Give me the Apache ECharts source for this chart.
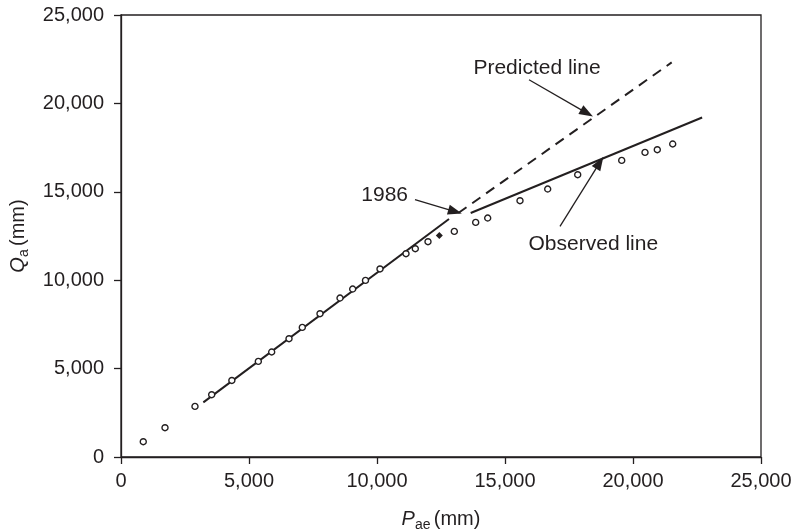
<!DOCTYPE html>
<html>
<head>
<meta charset="utf-8">
<script src="https://cdn.jsdelivr.net/npm/echarts@6/dist/echarts.min.js"></script>
<style>html,body{margin:0;padding:0;background:#fff}#c{width:793px;height:532px}</style>
</head>
<body>
<div id="c"></div>
<script>
// Annual precipitation (P_ae) vs runoff (Q_a), open circles
var obsX = [870,1719,2890,3542,4330,5364,5886,6563,7082,7773,8555,9050,9550,10117,11133,11496,11992,13020,13855,14324,15586,16668,17840,19559,20469,20949,21551];
var obsY = [865,1657,2862,3524,4330,5408,5939,6691,7331,8105,8993,9502,9990,10634,11499,11782,12178,12760,13270,13518,14497,15158,15967,16776,17229,17381,17704];
// 1986 point (filled diamond)
var yr1986X = [12434];
var yr1986Y = [12534];
// fitted lines (endpoints)
var fitX = [3216,12813];
var fitY = [3088,13461];
var predX = [13177,21511];
var predY = [13800,22318];
var obsLineX = [13660,22700];
var obsLineY = [13800,19200];
// annotations: text, text position, arrow start, arrow tip
var annText = ['Predicted line','1986','Observed line'];
var annTextX = [16250,10300,18450];
var annTextY = [22000,14800,12050];
var arrStartX = [15938,11484,17148];
var arrStartY = [21339,14553,13043];
var arrTipX = [18200,13050,18700];
var arrTipY = [19450,13880,16650];
// axis ticks
var tickMin = 0, tickMax = 25000, tickStep = 5000;

var INK = '#231f20';
var FONT = 'Liberation Sans';
function zip(a,b){return a.map(function(v,i){return [v,b[i]];});}
function fmt(v){return Number(v).toLocaleString('en-US');}
var nameRich = {
  i:{fontStyle:'italic',fontFamily:FONT,fontSize:20,color:INK},
  s:{fontFamily:FONT,fontSize:14,color:INK,verticalAlign:'bottom',padding:[11,0,0,0]},
  n:{fontFamily:FONT,fontSize:20,color:INK}
};

var chart = echarts.init(document.getElementById('c'), null, {renderer:'canvas'});
chart.setOption({
  animation:false,
  backgroundColor:'#fff',
  grid:{left:121,top:15,width:640,height:442,containLabel:false,outerBoundsMode:'none',
    show:true,borderColor:INK,borderWidth:1.3,backgroundColor:'transparent'},
  xAxis:{
    type:'value',min:tickMin,max:tickMax,interval:tickStep,
    axisLine:{lineStyle:{color:INK,width:1.3}},
    axisTick:{show:true,inside:false,length:7,lineStyle:{color:INK,width:1.3}},
    splitLine:{show:false},
    axisLabel:{color:INK,fontFamily:FONT,fontSize:20,margin:14,formatter:fmt},
    name:'{i|P}{s|ae} {n|(mm)}',nameLocation:'middle',nameGap:50,
    nameTextStyle:{rich:nameRich}
  },
  yAxis:{
    type:'value',min:tickMin,max:tickMax,interval:tickStep,
    axisLine:{lineStyle:{color:INK,width:1.3}},
    axisTick:{show:true,inside:false,length:7,lineStyle:{color:INK,width:1.3}},
    splitLine:{show:false},
    axisLabel:{color:INK,fontFamily:FONT,fontSize:20,margin:17,formatter:fmt},
    name:'{i|Q}{s|a} {n|(mm)}',nameLocation:'middle',nameGap:90,nameRotate:90,
    nameTextStyle:{rich:nameRich}
  },
  series:[
    {type:'line',data:zip(fitX,fitY),symbol:'none',lineStyle:{color:INK,width:2},z:2},
    {type:'line',data:zip(predX,predY),symbol:'none',lineStyle:{color:INK,width:2,type:[10,7]},z:2},
    {type:'line',data:zip(obsLineX,obsLineY),symbol:'none',lineStyle:{color:INK,width:2},z:2},
    {type:'scatter',data:zip(obsX,obsY),symbol:'circle',symbolSize:6,
      itemStyle:{color:'#fff',borderColor:INK,borderWidth:1.4,opacity:1},z:3},
    {type:'scatter',data:zip(yr1986X,yr1986Y),symbol:'diamond',symbolSize:7,
      itemStyle:{color:INK,opacity:1},z:3},
    {type:'scatter',symbolSize:0,silent:true,
      itemStyle:{opacity:1},
      data:annText.map(function(t,i){return {value:[annTextX[i],annTextY[i]],name:t};}),
      label:{show:true,position:'inside',formatter:'{b}',color:INK,opacity:1,fontFamily:FONT,fontSize:21},
      markLine:{silent:true,symbol:['none','triangle'],symbolSize:[10,14],
        lineStyle:{color:INK,width:1.3,type:'solid',opacity:1},label:{show:false},
        data:arrStartX.map(function(v,i){return [{coord:[v,arrStartY[i]]},{coord:[arrTipX[i],arrTipY[i]]}];})
      }
    }
  ]
});
</script>
</body>
</html>
